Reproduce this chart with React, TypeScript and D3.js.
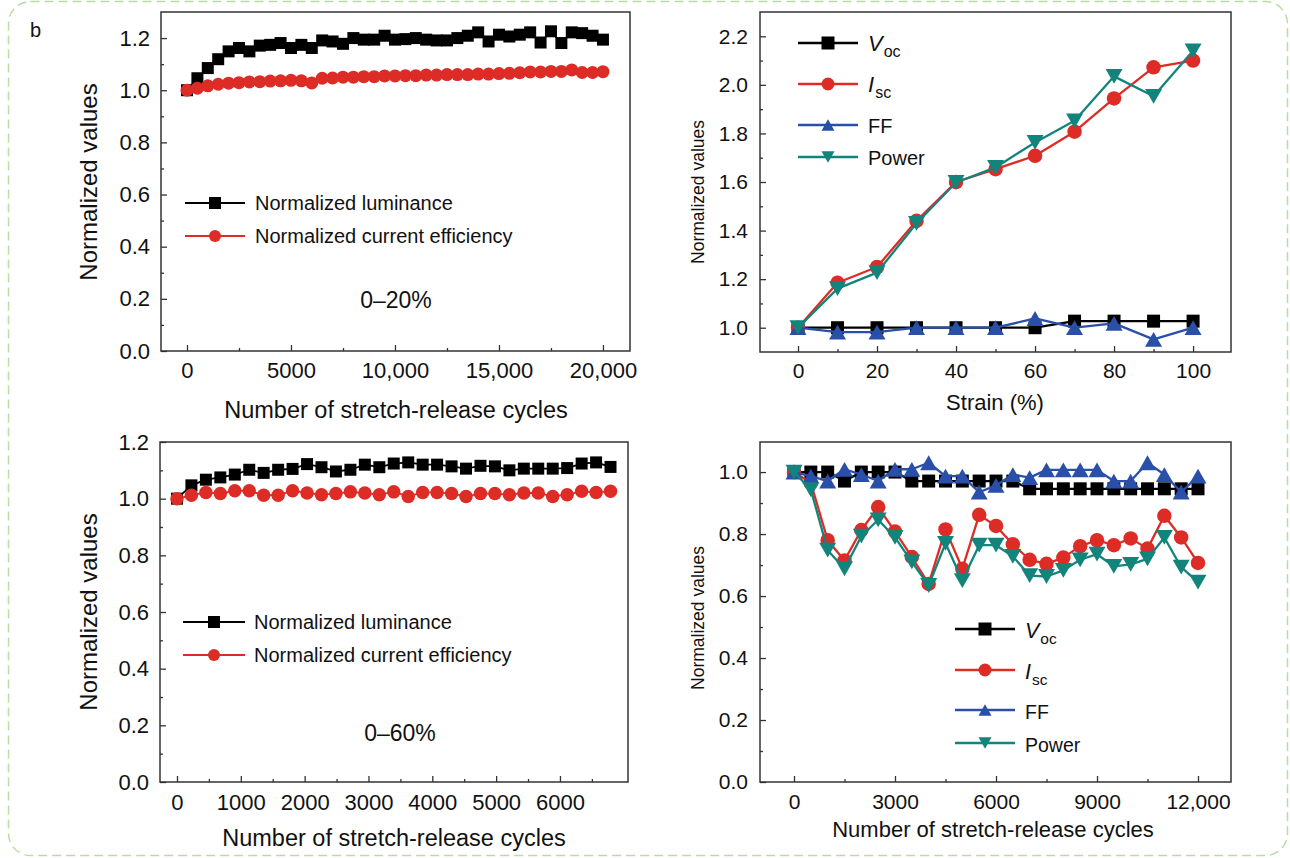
import React, { useEffect, useRef } from 'react';
import * as d3 from 'd3';

const FONT = '"Liberation Sans", Arial, Helvetica, sans-serif';
const RED = '#dd2b26';
const BLUE = '#2a4fa8';
const TEAL = '#13847b';
const INK = '#111';
const AXIS = '#333';

// top left: 0-20% stretch, 0-20,000 cycles
const tlCycles = [0, 500, 1000, 1500, 2000, 2500, 3000, 3500, 4000, 4500, 5000, 5500, 6000, 6500, 7000, 7500, 8000, 8500, 9000, 9500, 10000,
  10500, 11000, 11500, 12000, 12500, 13000, 13500, 14000, 14500, 15000, 15500, 16000, 16500, 17000, 17500, 18000, 18500, 19000, 19500, 20000];
const tlLuminance = [1.0, 1.046, 1.085, 1.119, 1.149, 1.162, 1.149, 1.171, 1.174, 1.181, 1.162, 1.174, 1.162, 1.191, 1.187, 1.178, 1.2, 1.194, 1.194, 1.209, 1.194,
  1.196, 1.2, 1.194, 1.191, 1.191, 1.2, 1.209, 1.222, 1.187, 1.213, 1.206, 1.213, 1.222, 1.183, 1.226, 1.181, 1.222, 1.219, 1.209, 1.194];
const tlEfficiency = [1.0, 1.008, 1.017, 1.023, 1.027, 1.029, 1.032, 1.033, 1.035, 1.036, 1.038, 1.036, 1.028, 1.046, 1.047, 1.05, 1.05, 1.052, 1.052, 1.055, 1.055,
  1.056, 1.056, 1.058, 1.058, 1.06, 1.06, 1.06, 1.062, 1.062, 1.064, 1.065, 1.067, 1.07, 1.07, 1.072, 1.072, 1.078, 1.068, 1.068, 1.071];
const tlXTicks = [0, 5000, 10000, 15000, 20000];
const tlXMinor = [2500, 7500, 12500, 17500];
const tlYTicks = [0, 0.2, 0.4, 0.6, 0.8, 1.0, 1.2];
const tlYMinor = [0.1, 0.3, 0.5, 0.7, 0.9, 1.1];

// top right: strain
const trStrain = [0, 10, 20, 30, 40, 50, 60, 70, 80, 90, 100];
const trVoc = [1.0, 1.0, 1.0, 1.0, 1.0, 1.0, 1.0, 1.027, 1.027, 1.027, 1.027];
const trIsc = [1.0, 1.185, 1.25, 1.44, 1.6, 1.653, 1.708, 1.807, 1.944, 2.072, 2.1];
const trFF = [1.0, 0.982, 0.982, 1.0, 1.0, 1.0, 1.038, 1.0, 1.018, 0.952, 1.0];
const trPower = [1.0, 1.161, 1.227, 1.43, 1.598, 1.66, 1.763, 1.852, 2.035, 1.953, 2.14];
const trXTicks = [0, 20, 40, 60, 80, 100];
const trXMinor = [10, 30, 50, 70, 90];
const trYTicks = [1.0, 1.2, 1.4, 1.6, 1.8, 2.0, 2.2];
const trYMinor = [1.1, 1.3, 1.5, 1.7, 1.9, 2.1];

// bottom left: 0-60% stretch
const blCycles = [0, 226, 453, 679, 906, 1132, 1358, 1585, 1811, 2038, 2264, 2490, 2717, 2943, 3170, 3396,
  3623, 3849, 4075, 4302, 4528, 4755, 4981, 5208, 5434, 5660, 5887, 6113, 6340, 6566, 6792];
const blLuminance = [1.0, 1.047, 1.067, 1.075, 1.085, 1.102, 1.091, 1.102, 1.105, 1.122, 1.111, 1.096, 1.102, 1.12, 1.111, 1.124,
  1.128, 1.12, 1.12, 1.114, 1.106, 1.116, 1.114, 1.1, 1.106, 1.106, 1.106, 1.108, 1.124, 1.128, 1.112];
const blEfficiency = [1.0, 1.012, 1.022, 1.018, 1.028, 1.028, 1.012, 1.012, 1.028, 1.02, 1.014, 1.018, 1.024, 1.02, 1.014, 1.024,
  1.008, 1.022, 1.022, 1.018, 1.008, 1.018, 1.018, 1.014, 1.02, 1.02, 1.008, 1.014, 1.026, 1.022, 1.026];
const blXTicks = [0, 1000, 2000, 3000, 4000, 5000, 6000];
const blXMinor = [500, 1500, 2500, 3500, 4500, 5500, 6500];
const blYTicks = [0, 0.2, 0.4, 0.6, 0.8, 1.0, 1.2];
const blYMinor = [0.1, 0.3, 0.5, 0.7, 0.9, 1.1];

// bottom right: cycling of solar cell
const brCycles = [0, 500, 1000, 1500, 2000, 2500, 3000, 3500, 4000, 4500, 5000, 5500, 6000,
  6500, 7000, 7500, 8000, 8500, 9000, 9500, 10000, 10500, 11000, 11500, 12000];
const brVoc = [1.0, 1.0, 1.0, 0.971, 1.0, 1.0, 1.0, 0.971, 0.971, 0.971, 0.971, 0.971, 0.971,
  0.971, 0.946, 0.946, 0.946, 0.946, 0.946, 0.946, 0.946, 0.946, 0.946, 0.946, 0.946];
const brIsc = [1.0, 0.965, 0.78, 0.715, 0.813, 0.887, 0.808, 0.726, 0.639, 0.815, 0.688, 0.862, 0.826,
  0.767, 0.717, 0.704, 0.724, 0.761, 0.78, 0.764, 0.786, 0.753, 0.859, 0.789, 0.707];
const brFF = [1.0, 0.987, 0.971, 1.009, 0.992, 0.971, 1.009, 1.009, 1.03, 0.987, 0.987, 0.935, 0.957,
  0.992, 0.982, 1.007, 1.007, 1.007, 1.007, 0.971, 0.971, 1.03, 0.992, 0.935, 0.987];
const brPower = [1.0, 0.943, 0.748, 0.688, 0.793, 0.846, 0.789, 0.71, 0.634, 0.77, 0.65, 0.764, 0.764,
  0.728, 0.666, 0.663, 0.683, 0.717, 0.735, 0.696, 0.702, 0.72, 0.789, 0.693, 0.645];
const brXTicks = [0, 3000, 6000, 9000, 12000];
const brXMinor = [1500, 4500, 7500, 10500];
const brYTicks = [0, 0.2, 0.4, 0.6, 0.8, 1.0];
const brYMinor = [0.1, 0.3, 0.5, 0.7, 0.9];

const lumLegend = [{ main: 'Normalized luminance' }, { main: 'Normalized current efficiency' }];
const pvLegend = [{ main: 'V', sub: 'oc', italic: true }, { main: 'I', sub: 'sc', italic: true }, { main: 'FF' }, { main: 'Power' }];

function markerPath(type, s) {
  const h = s / 2;
  const t = s * 0.87;
  if (type === 'square') return `M${-h},${-h}h${s}v${s}h${-s}Z`;
  if (type === 'circle') return `M${h},0A${h},${h} 0 1,1 ${-h},0A${h},${h} 0 1,1 ${h},0Z`;
  if (type === 'up') return `M0,${-t / 2}L${h},${t / 2}L${-h},${t / 2}Z`;
  return `M0,${t / 2}L${h},${-t / 2}L${-h},${-t / 2}Z`;
}

const fmtX = v => (v >= 10000 ? d3.format(',')(v) : String(v));
const fmtY = d3.format('.1f');

function drawPanel(svg, p) {
  const [l, t, r, b] = p.box;
  const x = d3.scaleLinear().domain(p.xDomain).range([l, r]);
  const y = d3.scaleLinear().domain(p.yDomain).range([b, t]);
  const g = svg.append('g');

  const axis = (gen, tr, size) => {
    const a = g.append('g').attr('transform', tr).call(gen);
    a.select('.domain').remove();
    a.attr('color', AXIS).attr('font-family', FONT).attr('font-size', size);
    a.selectAll('line').attr('stroke-width', 1.3);
    a.selectAll('text').attr('fill', INK);
    return a;
  };
  axis(d3.axisBottom(x).tickValues(p.xMinor).tickSize(-3).tickFormat(() => ''), `translate(0,${b})`, p.tick);
  axis(d3.axisBottom(x).tickValues(p.xTicks).tickSize(-6).tickPadding(p.xPad).tickFormat(fmtX), `translate(0,${b})`, p.tick);
  axis(d3.axisLeft(y).tickValues(p.yMinor).tickSize(-3).tickFormat(() => ''), `translate(${l},0)`, p.tick);
  axis(d3.axisLeft(y).tickValues(p.yTicks).tickSize(-6).tickPadding(p.yPad).tickFormat(fmtY), `translate(${l},0)`, p.tick);

  g.append('rect')
    .attr('x', l).attr('y', t).attr('width', r - l).attr('height', b - t)
    .attr('fill', 'none').attr('stroke', AXIS).attr('stroke-width', 1.5);

  p.series.forEach(s => {
    const line = d3.line().x((d, i) => x(p.xs[i])).y(d => y(d));
    g.append('path').attr('d', line(s.values))
      .attr('fill', 'none').attr('stroke', s.color).attr('stroke-width', p.lw).attr('stroke-linejoin', 'round');
    g.selectAll(null).data(s.values).enter().append('path')
      .attr('transform', (d, i) => `translate(${x(p.xs[i])},${y(d)})`)
      .attr('d', markerPath(s.marker, s.size))
      .attr('fill', s.color);
  });

  // axis titles
  g.append('text')
    .attr('transform', `translate(${p.yTitle[0]},${p.yTitle[1]}) rotate(-90)`)
    .attr('text-anchor', 'middle').attr('font-family', FONT).attr('font-size', p.yTitle[2]).attr('fill', INK)
    .text('Normalized values');
  g.append('text')
    .attr('x', p.xTitle[0]).attr('y', p.xTitle[1])
    .attr('text-anchor', 'middle').attr('font-family', FONT).attr('font-size', p.xTitle[2]).attr('fill', INK)
    .text(p.xLabel);

  // legend
  const lg = p.legend;
  lg.labels.forEach((lab, i) => {
    const s = p.series[i];
    const ly = lg.rows[i];
    g.append('line').attr('x1', lg.x0).attr('x2', lg.x1).attr('y1', ly).attr('y2', ly)
      .attr('stroke', s.color).attr('stroke-width', p.lw);
    g.append('path').attr('transform', `translate(${(lg.x0 + lg.x1) / 2},${ly})`)
      .attr('d', markerPath(s.marker, lg.size)).attr('fill', s.color);
    const tx = g.append('text').attr('x', lg.tx).attr('y', ly + lg.dy)
      .attr('font-family', FONT).attr('font-size', lg.font).attr('fill', INK);
    tx.append('tspan').attr('font-style', lab.italic ? 'italic' : 'normal')
      .attr('font-size', lab.sub ? lg.font + 2 : lg.font).text(lab.main);
    if (lab.sub) {
      tx.append('tspan').attr('dy', 6).attr('dx', 1).attr('font-size', lg.font - 4).text(lab.sub);
    }
  });

  if (p.note) {
    g.append('text').attr('x', p.note[0]).attr('y', p.note[1]).attr('text-anchor', 'middle')
      .attr('font-family', FONT).attr('font-size', 23).attr('fill', INK).text(p.note[2]);
  }
}

export default function App() {
  const ref = useRef(null);

  useEffect(() => {
    const svg = d3.select(ref.current);
    svg.selectAll('*').remove();

    svg.append('rect').attr('x', 8.5).attr('y', 1.5).attr('width', 1279).attr('height', 854).attr('rx', 22)
      .attr('fill', 'none').attr('stroke', '#b9dca4').attr('stroke-width', 1.5).attr('stroke-dasharray', '9 5');
    svg.append('text').attr('x', 30).attr('y', 37).attr('font-family', FONT).attr('font-size', 20).attr('fill', INK).text('b');

    const lumSeries = (a, b, sq, ci) => [
      { values: a, color: '#000', marker: 'square', size: sq },
      { values: b, color: RED, marker: 'circle', size: ci },
    ];
    const pvSeries = (v, i, f, pw) => [
      { values: v, color: '#000', marker: 'square', size: 13 },
      { values: i, color: RED, marker: 'circle', size: 14.5 },
      { values: f, color: BLUE, marker: 'up', size: 17 },
      { values: pw, color: TEAL, marker: 'down', size: 17 },
    ];

    drawPanel(svg, {
      box: [161, 12, 630, 351], xDomain: [-1250, 21300], yDomain: [0, 1.3],
      xs: tlCycles, series: lumSeries(tlLuminance, tlEfficiency, 12, 13), lw: 1.8,
      xTicks: tlXTicks, xMinor: tlXMinor, yTicks: tlYTicks, yMinor: tlYMinor,
      tick: 22, xPad: 11, yPad: 11,
      yTitle: [97, 182, 24], xTitle: [396, 418, 23.5], xLabel: 'Number of stretch-release cycles',
      legend: { labels: lumLegend, rows: [203, 236], x0: 185, x1: 245, tx: 255, dy: 7, font: 20, size: 12 },
      note: [396, 308, '0\u201320%'],
    });

    drawPanel(svg, {
      box: [760, 12, 1231, 352], xDomain: [-9.62, 109.6], yDomain: [0.9, 2.3],
      xs: trStrain, series: pvSeries(trVoc, trIsc, trFF, trPower), lw: 2.3,
      xTicks: trXTicks, xMinor: trXMinor, yTicks: trYTicks, yMinor: trYMinor,
      tick: 21, xPad: 11, yPad: 12,
      yTitle: [704, 192, 17.5], xTitle: [995, 410, 22], xLabel: 'Strain (%)',
      legend: { labels: pvLegend, rows: [43, 84, 125, 157], x0: 798, x1: 858, tx: 868, dy: 7.5, font: 20, size: 13 },
    });

    drawPanel(svg, {
      box: [160, 442, 628, 782], xDomain: [-266, 7066], yDomain: [0, 1.2],
      xs: blCycles, series: lumSeries(blLuminance, blEfficiency, 12, 13.5), lw: 1.8,
      xTicks: blXTicks, xMinor: blXMinor, yTicks: blYTicks, yMinor: blYMinor,
      tick: 22, xPad: 12, yPad: 11,
      yTitle: [97, 612, 24], xTitle: [394, 846, 23.5], xLabel: 'Number of stretch-release cycles',
      legend: { labels: lumLegend, rows: [622, 655], x0: 183, x1: 245, tx: 254, dy: 7, font: 20, size: 12 },
      note: [400, 741, '0\u201360%'],
    });

    drawPanel(svg, {
      box: [760, 442, 1231, 782], xDomain: [-1010, 12980], yDomain: [0, 1.097],
      xs: brCycles, series: pvSeries(brVoc, brIsc, brFF, brPower), lw: 2.3,
      xTicks: brXTicks, xMinor: brXMinor, yTicks: brYTicks, yMinor: brYMinor,
      tick: 21, xPad: 12, yPad: 12,
      yTitle: [704, 618, 17.5], xTitle: [993, 837, 22], xLabel: 'Number of stretch-release cycles',
      legend: { labels: pvLegend, rows: [629, 670, 710, 743], x0: 955, x1: 1015, tx: 1025, dy: 8.5, font: 19.5, size: 13 },
    });
  }, []);

  return (
    <svg ref={ref} width={1290} height={858}
      style={{ position: 'absolute', left: 0, top: 0, background: '#fff' }} />
  );
}
